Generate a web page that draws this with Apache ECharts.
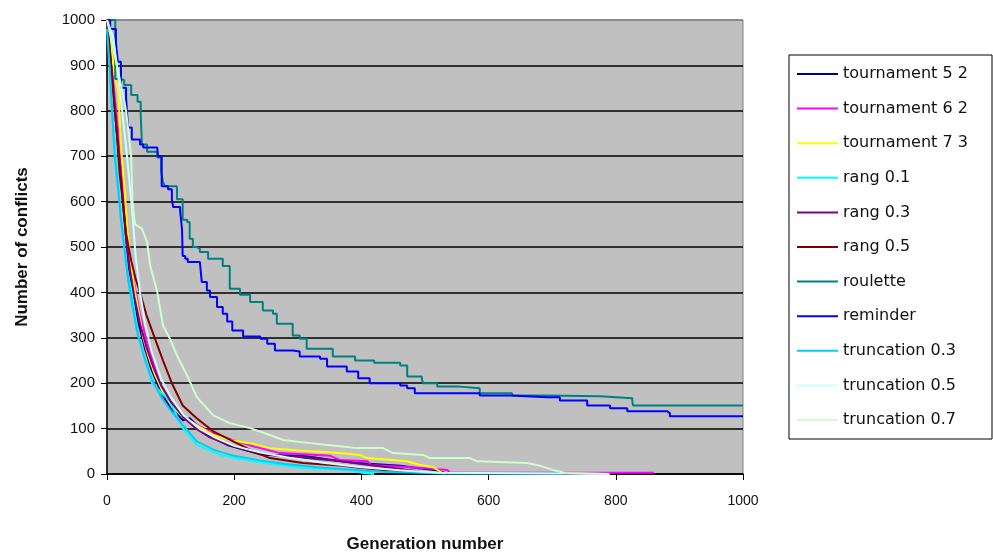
<!DOCTYPE html>
<html>
<head>
<meta charset="utf-8">
<script src="https://cdn.jsdelivr.net/npm/echarts@6/dist/echarts.min.js"></script>
<style>
html,body{margin:0;padding:0;background:#fff;}
#chart{width:993px;height:558px;}
</style>
</head>
<body>
<div id="chart"></div>
<script>
// series names, as in the legend
const seriesNames = ['tournament 5 2', 'tournament 6 2', 'tournament 7 3', 'rang 0.1', 'rang 0.3', 'rang 0.5',
    'roulette', 'reminder', 'truncation 0.3', 'truncation 0.5', 'truncation 0.7'];
const seriesColors = ['#000080', '#FF00FF', '#FFFF00', '#00FFFF', '#800080', '#800000',
    '#008080', '#0000FF', '#00CCFF', '#CCFFFF', '#CCFFCC'];

// [generation, conflicts]
const tournament52 = [[0,1000],[5,920],[10,850],[15,760],[20,680],[25,600],[30,520],[35,450],[42,390],[50,330],
    [60,275],[70,230],[85,180],[100,145],[120,118],[130,123],[157,86],[189,64],[245,42],[308,40],[362,29],[393,24],
    [461,18],[487,13],[519,8],[530,3]];
const tournament62 = [[0,1000],[5,930],[10,860],[15,790],[20,710],[25,630],[30,560],[36,480],[44,410],[52,350],
    [62,295],[72,250],[83,200],[100,160],[120,125],[151,101],[178,83],[230,61],[272,46],[351,40],[366,31],[410,28],
    [415,20],[497,13],[535,9],[540,3],[860,3]];
const tournament73 = [[0,1000],[5,950],[12,880],[18,840],[22,720],[28,620],[32,540],[38,460],[44,400],[52,340],
    [57,300],[65,260],[75,220],[88,180],[100,155],[120,125],[140,108],[167,86],[193,75],[230,66],[256,57],[300,52],
    [366,46],[398,42],[409,35],[472,28],[492,20],[513,15],[524,5],[530,0]];
const rang01 = [[0,1000],[3,950],[6,850],[10,760],[15,680],[20,600],[25,520],[30,460],[39,400],[45,340],[50,300],
    [60,250],[71,200],[99,160],[119,101],[141,64],[178,42],[230,28],[308,13],[382,9],[400,3],[420,0]];
const rang03 = [[0,1000],[5,920],[10,840],[15,760],[20,690],[25,600],[30,520],[36,450],[43,390],[52,330],[62,280],
    [73,235],[85,195],[100,160],[120,125],[140,100],[160,82],[190,65],[220,52],[260,42],[308,36],[362,29],[400,22],
    [440,15],[480,8],[500,3]];
const rang05 = [[0,1000],[5,930],[10,840],[15,760],[20,660],[25,600],[30,530],[38,470],[45,430],[52,400],[62,350],
    [75,300],[88,250],[102,200],[119,151],[141,123],[167,94],[230,50],[256,35],[308,24],[371,18],[400,13],[440,8],
    [470,3]];
const roulette = [[0,1000],[8,1000],[13,870],[20,868],[27,857],[38,835],[48,820],[53,791],[55,726],[63,710],[79,697],
    [85,667],[88,643],[91,634],[110,605],[119,560],[126,555],[130,518],[135,500],[141,496],[146,489],[159,474],
    [182,458],[193,408],[209,395],[225,379],[245,360],[261,353],[267,331],[292,305],[303,298],[314,276],[355,259],
    [390,250],[420,245],[461,239],[472,215],[495,210],[497,200],[519,193],[550,189],[586,178],[637,173],[692,171],
    [775,167],[826,160],[827,151],[1000,151]];
const reminder = [[0,1000],[5,980],[14,950],[17,908],[22,851],[30,829],[33,763],[39,737],[52,726],[57,719],[79,715],
    [80,700],[86,634],[96,627],[102,605],[104,588],[115,579],[118,539],[119,480],[123,474],[127,467],[146,463],
    [149,423],[157,404],[162,390],[173,368],[182,353],[189,336],[197,316],[214,303],[241,298],[252,287],[264,272],
    [292,270],[303,259],[335,254],[346,237],[377,226],[395,211],[413,200],[461,195],[472,189],[484,178],[586,173],
    [634,169],[692,169],[712,162],[755,151],[791,145],[818,138],[881,134],[885,127],[1000,127]];
const truncation03 = [[0,980],[4,900],[8,800],[12,700],[18,620],[22,560],[27,500],[33,430],[40,370],[48,310],[58,260],
    [70,210],[85,170],[100,140],[119,108],[141,72],[170,52],[200,40],[240,30],[280,22],[330,15],[380,10],[430,5],
    [500,2],[535,1],[717,1]];
const truncation05 = [[0,1000],[10,960],[20,850],[30,720],[39,590],[45,480],[52,400],[60,330],[70,270],[85,210],
    [100,170],[120,130],[145,100],[170,80],[200,62],[240,48],[290,35],[340,25],[400,15],[460,8],[520,3],[717,1],
    [790,0]];
const truncation07 = [[0,1000],[8,950],[20,870],[30,800],[38,700],[40,600],[44,550],[55,540],[63,511],[68,458],
    [79,401],[88,327],[99,298],[110,261],[126,217],[141,170],[167,129],[193,112],[225,101],[256,86],[277,75],
    [319,68],[366,61],[393,57],[434,57],[450,46],[497,42],[508,35],[571,35],[582,28],[660,24],[681,18],[701,9],
    [720,2],[790,0]];

const seriesData = [tournament52, tournament62, tournament73, rang01, rang03, rang05,
    roulette, reminder, truncation03, truncation05, truncation07];
const stepped = ['roulette', 'reminder'];

// axis ticks
const xTicks = [0, 200, 400, 600, 800, 1000];
const yTicks = [0, 100, 200, 300, 400, 500, 600, 700, 800, 900, 1000];

let chart = echarts.init(document.getElementById('chart'));

let series = seriesNames.map(function (name, i) {
    return {
        name: name,
        type: 'line',
        data: seriesData[i],
        step: stepped.indexOf(name) >= 0 ? 'end' : false,
        symbol: 'none',
        showSymbol: false,
        animation: false,
        lineStyle: { width: 2, color: seriesColors[i] },
        itemStyle: { color: seriesColors[i] }
    };
});

// gridline colours: black, top one grey like the plot border
let splitColors = yTicks.map(function (v) { return v === 1000 ? '#808080' : '#000000'; });

chart.setOption({
    backgroundColor: '#ffffff',
    animation: false,
    textStyle: { fontFamily: 'Liberation Sans, Arial, sans-serif' },
    grid: {
        left: 107, right: 250, top: 20, bottom: 82,
        show: true,
        backgroundColor: '#C0C0C0',
        borderColor: '#808080',
        borderWidth: 1
    },
    legend: {
        orient: 'vertical',
        left: 789,
        top: 55,
        padding: [11, 4, 11, 8],
        icon: 'rect',
        itemWidth: 41,
        itemHeight: 2,
        itemGap: 18.6,
        borderColor: '#000',
        borderWidth: 1,
        backgroundColor: '#fff',
        data: seriesNames,
        textStyle: {
            fontFamily: 'DejaVu Sans',
            fontSize: 16,
            lineHeight: 16,
            color: '#111',
            width: 145
        }
    },
    xAxis: {
        type: 'value',
        min: xTicks[0],
        max: xTicks[xTicks.length - 1],
        interval: 200,
        name: 'Generation number',
        nameLocation: 'middle',
        nameGap: 62,
        nameTextStyle: { fontSize: 17, fontWeight: 'bold', color: '#111' },
        axisLine: { show: true, onZero: false, lineStyle: { color: '#000', width: 1.5 } },
        axisTick: { show: true, length: 6, inside: false, lineStyle: { color: '#000' } },
        axisLabel: { fontSize: 14, color: '#111', margin: 20, formatter: function (v) { return String(v); } },
        splitLine: { show: false }
    },
    yAxis: {
        type: 'value',
        min: yTicks[0],
        max: yTicks[yTicks.length - 1],
        interval: 100,
        name: 'Number of conflicts',
        nameLocation: 'middle',
        nameGap: 76,
        nameTextStyle: { fontSize: 17, fontWeight: 'bold', color: '#111' },
        axisLine: { show: true, lineStyle: { color: '#000', width: 1.5 } },
        axisTick: { show: true, length: 6, inside: false, lineStyle: { color: '#000' } },
        axisLabel: { fontSize: 15, color: '#111', margin: 12, formatter: function (v) { return String(v); } },
        splitLine: { show: true, lineStyle: { color: splitColors, width: 1.5 } }
    },
    series: series
});
</script>
</body>
</html>
